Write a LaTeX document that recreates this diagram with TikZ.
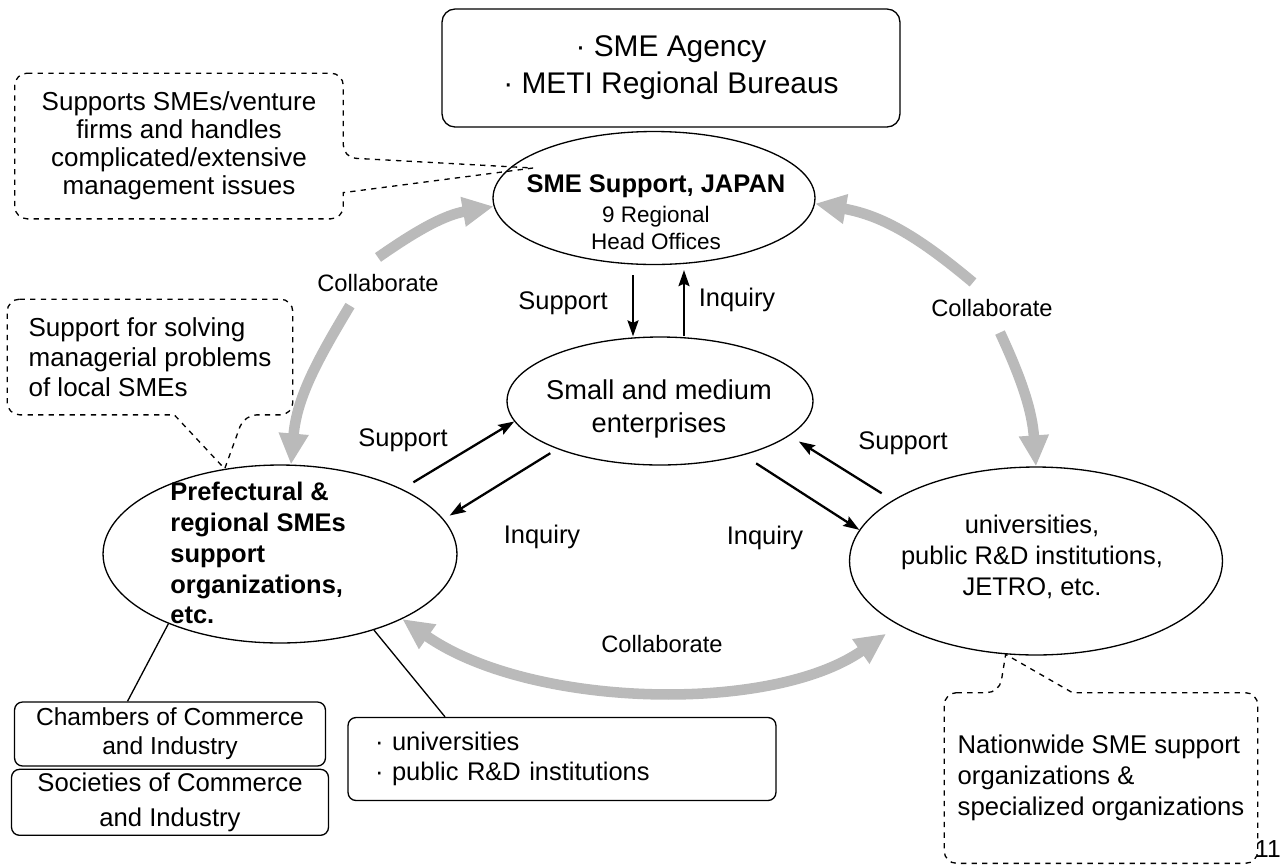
\documentclass[tikz,border=0pt]{standalone}
\usepackage{fontspec}
\setmainfont{Liberation Sans}
\usetikzlibrary{arrows.meta,positioning,shapes.geometric,calc}

\tikzset{bigtip/.tip={Triangle[length=6.2mm, width=5.6mm]}}

\begin{document}
\begin{tikzpicture}[
    x=0.02cm, y=-0.02cm,
    inner sep=0pt,
    font=\fontsize{14.5}{17.5}\selectfont,
    hub/.style={ellipse, draw, line width=0.75pt},
    box/.style={rectangle, draw, line width=0.75pt, rounded corners=0.16cm, align=center},
    note/.style={align=left, font=\fontsize{14.8}{17}\selectfont},
    bubble/.style={draw, dashed, line width=0.75pt, rounded corners=0.25cm},
    arrow/.style={-{Stealth[length=3.2mm, width=2.2mm, inset=0.5mm]}, line width=1.3pt},
    collab/.style={draw=black!27, line width=6pt},
    tag/.style={font=\fontsize{13.5}{15}\selectfont}
]
\useasboundingbox (0,0) rectangle (1285,866);

% Nodes
\node[box, minimum width=9.16cm, minimum height=2.36cm, rounded corners=0.26cm,
      font=\fontsize{17}{21}\selectfont] (meti) at (671,68) {· SME Agency\\· METI Regional Bureaus};

\node[hub, minimum width=6.44cm, minimum height=2.66cm] (jsme) at (654,198) {};
\node[hub, minimum width=6.12cm, minimum height=2.56cm] (sme) at (660,401) {};
\node[hub, minimum width=7.08cm, minimum height=3.56cm] (pref) at (280,554) {};
\node[hub, minimum width=7.46cm, minimum height=3.76cm] (uni) at (1036,561) {};

\node[align=center, font=\fontsize{12.8}{15.2}\selectfont] (jsmetext) at (656,212)
    {{\fontsize{14.5}{17}\selectfont\bfseries SME Support, JAPAN}\\[2pt]9 Regional\\Head Offices};
\node[align=center, font=\fontsize{15.5}{18.7}\selectfont] (smetext) at (659,409) {Small and medium\\enterprises};
\node[align=left, anchor=west, font=\fontsize{14.5}{17.6}\selectfont\bfseries] (preftext) at (170,553)
    {Prefectural \&\\regional SMEs\\support\\organizations,\\etc.};
\node[align=center] (unitext) at (1032,557) {universities,\\public R\&D institutions,\\JETRO, etc.};

\node[note, align=center, minimum width=6.56cm, minimum height=2.9cm, font=\fontsize{14.8}{15.9}\selectfont] (note1) at (179,146)
    {Supports SMEs/venture\\firms and handles\\complicated/extensive\\management issues};
\node[note, minimum width=5.7cm, minimum height=2.3cm] (note2) at (150,357)
    {Support for solving\\managerial problems\\of local SMEs};
\node[note, minimum width=6.26cm, minimum height=3.4cm, font=\fontsize{14.6}{17.5}\selectfont] (note3) at (1101,778)
    {Nationwide SME support\\organizations \&\\specialized organizations};

\node[box, minimum width=6.22cm, minimum height=1.28cm, font=\fontsize{14}{16.4}\selectfont] (chamber) at (170,734)
    {Chambers of Commerce\\and Industry};
\node[box, minimum width=6.34cm, minimum height=1.32cm, font=\fontsize{14.6}{19.8}\selectfont, below=0.04cm of chamber] (society)
    {Societies of Commerce\\and Industry};
\node[box, minimum width=8.56cm, minimum height=1.66cm, align=left, text width=7.48cm, inner xsep=0.54cm] (unibox) at (562,759)
    {· universities\\· public R\&D institutions};

\node (sup1) at (563,303) {Support};
\node (inq1) at (737,300) {Inquiry};
\node (sup2) at (403,440) {Support};
\node (inq2) at (542,537) {Inquiry};
\node (sup3) at (903,443) {Support};
\node (inq3) at (765,538) {Inquiry};

\node[tag] (colL) at (378,283) {Collaborate};
\node[tag] (colR) at (992,308) {Collaborate};
\node[tag] (colB) at (662,644) {Collaborate};

\node[font=\fontsize{14}{16}\selectfont] (pageno) at (1268,849) {11};

% Callouts
\draw[bubble] (note1.north west) -- (note1.north east)
    -- ($(note1.north east)!0.58!(note1.south east)$) [sharp corners]
    -- ([xshift=-2.42cm, yshift=0.6cm]jsme.center)
    -- ($(note1.north east)!0.82!(note1.south east)$) [rounded corners=0.25cm]
    -- (note1.south east) -- (note1.south west) -- cycle;
\draw[bubble] (note2.north west) -- (note2.north east) -- (note2.south east)
    -- ($(note2.south west)!0.83!(note2.south east)$) [sharp corners]
    -- (pref.123)
    -- ($(note2.south west)!0.585!(note2.south east)$) [rounded corners=0.25cm]
    -- (note2.south west) -- cycle;
\draw[bubble] (note3.north west)
    -- ($(note3.north west)!0.176!(note3.north east)$) [sharp corners]
    -- (uni.252)
    -- ($(note3.north west)!0.409!(note3.north east)$) [rounded corners=0.25cm]
    -- (note3.north east) -- (note3.south east) -- (note3.south west) -- cycle;

% Links
\draw[line width=0.75pt] ([xshift=-0.85cm]chamber.north) -- (pref.212);
\draw[line width=0.75pt] ([xshift=-2.34cm]unibox.north) -- (pref.-39);

% Arrows
\draw[arrow, shorten <=0.2cm] ([xshift=-0.42cm]jsme.south) -- ([xshift=-0.42cm]jsme.south |- sme.north);
\draw[arrow, shorten >=0.1cm] ([xshift=0.6cm]jsme.south |- sme.north) -- ([xshift=0.6cm]jsme.south);
\draw[arrow, shorten <=0.26cm] (pref.28) -- (sme.188);
\draw[arrow, shorten <=0.16cm, shorten >=0.14cm] (sme.205) -- (pref.12);
\draw[arrow, shorten <=0.3cm] (sme.-33) -- (uni.170);
\draw[arrow, shorten <=0.26cm, shorten >=0.22cm] (uni.157) -- (sme.-15);

% Collaboration
\draw[collab, -bigtip] ([xshift=-0.56cm, yshift=-0.27cm]colL.south) to[out=239, in=85] (pref.83);
\draw[collab, -bigtip] ([yshift=0.33cm]colL.north) to[out=35, in=190] (jsme.183);
\draw[collab, -bigtip] ([xshift=-0.38cm, yshift=0.33cm]colR.north) to[out=140, in=-10] (jsme.358);
\draw[collab, -bigtip] ([xshift=0.16cm, yshift=-0.31cm]colR.south) to[out=-65, in=94] (uni.north);
\draw[collab, bigtip-bigtip, shorten >=0.3cm] (pref.-28) to[out=-35, in=215, looseness=0.8] (uni.205);

\end{tikzpicture}
\end{document}
